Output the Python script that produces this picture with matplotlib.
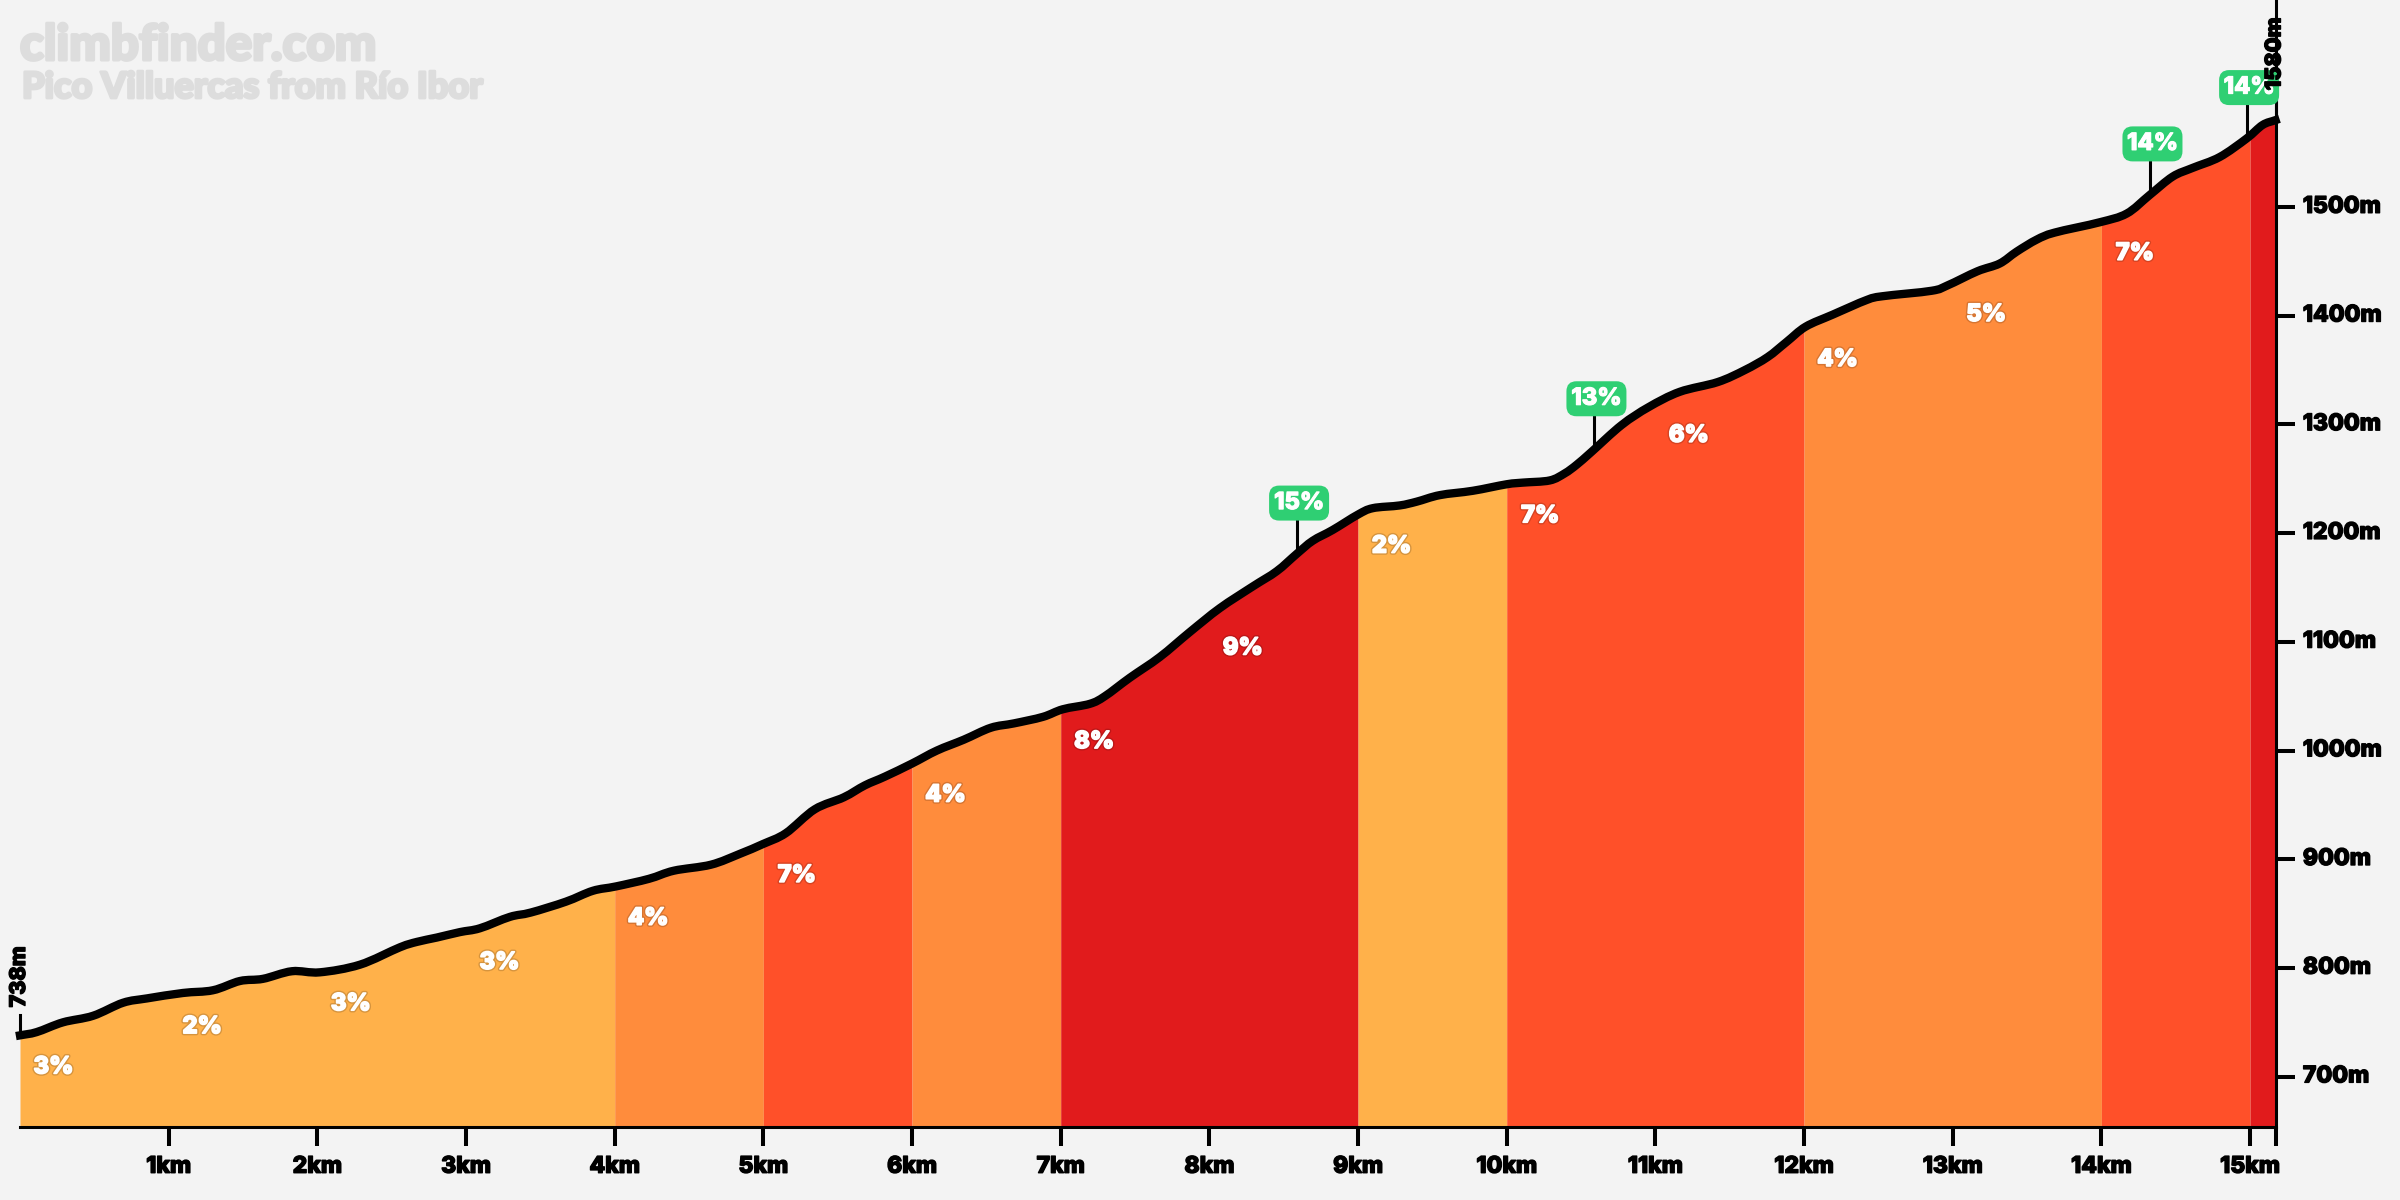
import numpy as np
import matplotlib
matplotlib.use("Agg")
import matplotlib.pyplot as plt
import matplotlib.patheffects as pe
from matplotlib.patches import FancyBboxPatch, PathPatch
from matplotlib.path import Path
from matplotlib.transforms import IdentityTransform, ScaledTranslation

km = [0,.112,.289,.491,.693,.854,1.096,1.298,1.479,1.634,1.829,2.017,2.286,2.555,2.670,2.804,2.959,3.093,3.295,3.436,
      3.672,3.853,4.008,4.230,4.398,4.647,4.842,4.997,5.151,5.346,5.541,5.683,5.817,5.999,6.167,6.348,6.530,6.685,6.880,
      7.014,7.196,7.297,7.465,7.666,7.868,8.070,8.292,8.453,8.588,8.695,8.830,8.998,9.099,9.280,9.395,9.550,9.772,10.0,
      10.108,10.289,10.390,10.471,10.572,10.773,10.955,11.163,11.419,11.601,11.755,11.883,12.011,12.192,12.421,12.529,
      12.858,12.966,13.167,13.315,13.430,13.564,13.685,13.988,14.170,14.324,14.479,14.613,14.795,14.976,15.084,15.171]
elev = [738,741,750,756,768,772,777,779.5,788,790,797,796,803,819,824,828,833,836.5,847,851,
        861,871,875,882,889.5,895,905,914,924,946,957,968,976,988,1000,1010,1021,1025,1031,
        1038,1043,1050,1067,1086,1109,1131,1151,1165,1181,1193,1203,1217,1223,1225.5,1229,1235,1239,1245,
        1246.5,1248.5,1255,1263,1275,1299.5,1316,1330,1339,1350,1362,1376,1390,1401,1414.5,1418,
        1423,1428,1441,1448,1459,1470,1476.5,1486,1494,1511,1528,1536,1546,1563,1575.5,1580]

segment_edges = [0,4,5,6,7,9,10,12,14,15,15.171]
segment_colors = ['#FFB14A','#FF8C3C','#FF5029','#FF8C3C','#E11B1C','#FFB14A','#FF5029','#FF8C3C','#FF5029','#E11B1C']
grade_labels = ['3%','2%','3%','3%','4%','7%','4%','8%','9%','2%','7%','6%','4%','5%','7%']
steep_km = [8.59,10.59,14.33,14.98]
steep_labels = ['15%','13%','14%','14%']
y_ticks = [700,800,900,1000,1100,1200,1300,1400,1500]
x_ticks = list(range(1,16))

BG = '#F3F3F3'
FONT = 'Inter'
W, H = 2400, 1200
fig = plt.figure(figsize=(24,12), dpi=100, facecolor=BG)
ax = fig.add_axes([20/W, (H-1127)/H, (2275.5-20)/W, 1127/H], facecolor=BG)
ax.set_xlim(0, 15.171)
ax.set_ylim(653.7, 1690.5)
for s in ('top','left'):
    ax.spines[s].set_visible(False)
for s in ('bottom','right'):
    ax.spines[s].set_linewidth(2.2)
    ax.spines[s].set_color('black')

x = np.array(km, dtype=float); y = np.array(elev, dtype=float)
for a, b, c in zip(segment_edges[:-1], segment_edges[1:], segment_colors):
    inner = x[(x > a) & (x < b)]
    xs = np.concatenate([[a], inner, [b]])
    ax.fill_between(xs, 653.7, np.interp(xs, x, y), color=c, linewidth=0, antialiased=False, zorder=1)

# profile drawn as a smooth Bezier path through the read points
pts = np.column_stack([x, y])
tang = np.gradient(pts, axis=0)
verts = [pts[0]]; codes = [Path.MOVETO]
for i in range(len(pts)-1):
    verts += [pts[i] + tang[i]/3, pts[i+1] - tang[i+1]/3, pts[i+1]]
    codes += [Path.CURVE4]*3
ax.add_patch(PathPatch(Path(verts, codes), fc='none', ec='black', lw=6, capstyle='projecting', joinstyle='round',
                       zorder=4, clip_on=False))

ax.xaxis.tick_bottom()
ax.set_xticks(x_ticks + [15.171])
ax.set_xticklabels([f'{k}km' for k in x_ticks] + [''])
ax.yaxis.tick_right()
ax.set_yticks(y_ticks)
ax.set_yticklabels([f'{v}m' for v in y_ticks])
ax.tick_params(axis='x', length=13.7, width=2.9, pad=7, color='black')
ax.tick_params(axis='y', length=13.7, width=2.9, pad=6, color='black')
tick_fx = [pe.withStroke(linewidth=1.0, foreground='black')]
for t in ax.get_xticklabels() + ax.get_yticklabels():
    t.set_fontfamily(FONT); t.set_fontweight('heavy'); t.set_fontsize(16.5); t.set_color('black')
    t.set_path_effects(tick_fx)
up = ScaledTranslation(0, 2/72, fig.dpi_scale_trans)
for t in ax.get_yticklabels():
    t.set_transform(t.get_transform() + up)

# grade labels
shadow = [pe.withStroke(linewidth=3.2, foreground=(0,0,0,0.16)), pe.withStroke(linewidth=1.2, foreground='white')]
for i, lab in enumerate(grade_labels):
    kx = i + 0.225
    e = np.interp(i, x, y)
    ax.annotate(lab, xy=(kx, e), xytext=(0,-32), textcoords='offset pixels', ha='center', va='center',
                color='white', family=FONT, weight='heavy', fontsize=17, zorder=5, path_effects=shadow)

# steep markers
for k, lab in zip(steep_km, steep_labels):
    e = float(np.interp(k, x, y))
    px, py = ax.transData.transform((k, e))
    ax.plot([px, px], [py, py+36], transform=IdentityTransform(), color='black', lw=2.2, zorder=3, clip_on=False, solid_capstyle='butt')
    ax.add_patch(FancyBboxPatch((px+2-30+10, py+33+10), 60-20, 35-20, boxstyle='round,pad=10,rounding_size=10',
                                transform=IdentityTransform(), fc='#2FCF73', ec='none', zorder=6, clip_on=False))
    ax.text(px+2, py+33+17.5, lab, transform=IdentityTransform(), ha='center', va='center', color='white',
            family=FONT, weight='heavy', fontsize=17, zorder=7,
            path_effects=[pe.withStroke(linewidth=0.8, foreground='white')])

# endpoints
for k, rise in ((0, 20), (15.171, 22)):
    e = float(np.interp(k, x, y))
    px, py = ax.transData.transform((k, e))
    ax.plot([px, px], [py, py+rise], transform=IdentityTransform(), color='black', lw=2.2, zorder=3, clip_on=False)
    ax.text(px-1, py+rise+8, f'{int(round(e))}m', transform=IdentityTransform(), rotation=90, ha='center', va='bottom',
            color='black', family=FONT, weight='heavy', fontsize=15.5, zorder=8, path_effects=tick_fx)

title_fx = lambda w: [pe.withStroke(linewidth=w, foreground='#DDDDDD', capstyle='round', joinstyle='round')]
fig.text(20/W, 1-60/H, 'climbfinder.com', color='#DDDDDD', family='Lato', weight='black', fontsize=35.5, va='baseline', ha='left', path_effects=title_fx(2.2))
fig.text(22/W, 1-98/H, 'Pico Villuercas from Río Ibor', color='#DDDDDD', family='Lato', weight='black', fontsize=26, va='baseline', ha='left', path_effects=title_fx(2.0))

fig.savefig('out.png', dpi=100, facecolor=BG)
